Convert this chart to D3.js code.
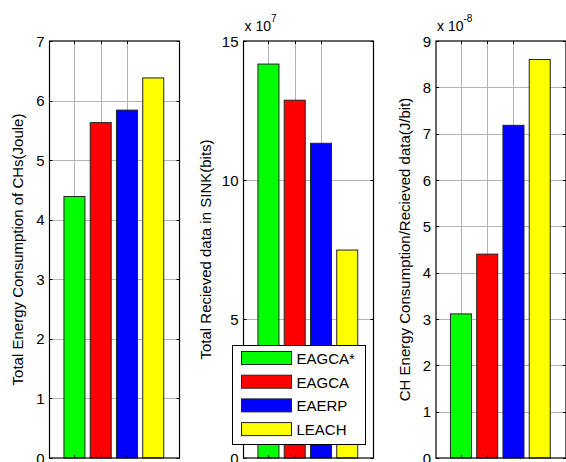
<!DOCTYPE html>
<html>
<head>
<meta charset="utf-8">
<script src="https://cdn.jsdelivr.net/npm/d3@7"></script>
<style>
  body { margin: 0; background: #fff; }
  svg { font-family: "Liberation Sans", Arial, sans-serif; }
  .tickLabel { font-size: 15px; fill: #000; }
  .expText { font-size: 14px; fill: #000; }
  .axisText { font-size: 15px; fill: #000; }
  .legendText { font-size: 15px; fill: #000; }
</style>
</head>
<body>
<script>
/********************************************************/
// Data
const methods = ["EAGCA*", "EAGCA", "EAERP", "LEACH"];
const barColours = ["#00ff00", "#ff0000", "#0000ff", "#ffff00"];
const barPositions = [1, 2, 3, 4];
const gridPositions = [1, 2, 3];

const energyCH = [4.39, 5.63, 5.84, 6.38];        // Joule
const receivedSink = [14.17, 12.87, 11.32, 7.48]; // x 10^7 bits
const energyPerBit = [3.11, 4.40, 7.18, 8.60];    // x 10^-8 J/bit

const ticksEnergy = [0, 1, 2, 3, 4, 5, 6, 7];
const ticksSink = [0, 5, 10, 15];
const ticksPerBit = [0, 1, 2, 3, 4, 5, 6, 7, 8, 9];
/********************************************************/
const svgWidth = 566;
const svgHeight = 462;
const plotTop = 41;
const plotBottom = 458;

const svg = d3.select("body").append("svg").attr("width", svgWidth).attr("height", svgHeight);
/********************************************************/
const panels = [
  { left: 49.5, values: energyCH, ticks: ticksEnergy, yMax: 7,
    label: "Total Energy Consumption of CHs(Joule)", labelX: 18, exp: null },
  { left: 243.5, values: receivedSink, ticks: ticksSink, yMax: 15,
    label: "Total Recieved data in SINK(bits)", labelX: 206, exp: "7" },
  { left: 436, values: energyPerBit, ticks: ticksPerBit, yMax: 9,
    label: "CH Energy Consumption/Recieved data(J/bit)", labelX: 405, exp: "-8" },
];

panels.forEach(drawPanel);
drawLegend();
/********************************************************/
function drawPanel(p) {
  const width = 130;
  const x = d3.scaleLinear().domain([0.05, 5]).range([p.left, p.left + width]);
  const y = d3.scaleLinear().domain([0, p.yMax]).range([plotBottom, plotTop]);
  const g = svg.append("g");

  // horizontal grid
  g.selectAll(null).data(p.ticks.slice(1, -1)).enter().append("line")
    .attr("x1", p.left).attr("x2", p.left + width)
    .attr("y1", (d) => Math.round(y(d)) + 0.5).attr("y2", (d) => Math.round(y(d)) + 0.5)
    .attr("stroke", "#b4b4b4").attr("stroke-width", 1);

  // vertical grid
  g.selectAll(null).data(gridPositions).enter().append("line")
    .attr("x1", (d) => Math.round(x(d)) + 0.5).attr("x2", (d) => Math.round(x(d)) + 0.5)
    .attr("y1", plotTop).attr("y2", plotBottom)
    .attr("stroke", "#b4b4b4").attr("stroke-width", 1);

  // bars
  const barW = x(0.8) - x(0);
  g.selectAll(null).data(p.values).enter().append("rect")
    .attr("x", (d, i) => x(barPositions[i]) - barW / 2)
    .attr("y", (d) => y(d))
    .attr("width", barW)
    .attr("height", (d) => y(0) - y(d))
    .attr("fill", (d, i) => barColours[i])
    .attr("stroke", "#222").attr("stroke-width", 1);

  // y ticks both sides, inward
  const tk = g.selectAll(null).data(p.ticks).enter();
  tk.append("line")
    .attr("x1", p.left).attr("x2", p.left + 3)
    .attr("y1", (d) => Math.round(y(d)) + 0.5).attr("y2", (d) => Math.round(y(d)) + 0.5)
    .attr("stroke", "#000");
  tk.append("line")
    .attr("x1", p.left + width - 3).attr("x2", p.left + width)
    .attr("y1", (d) => Math.round(y(d)) + 0.5).attr("y2", (d) => Math.round(y(d)) + 0.5)
    .attr("stroke", "#000");
  tk.append("text")
    .attr("class", "tickLabel")
    .attr("x", p.left - 5)
    .attr("y", (d) => y(d) + 5.5)
    .attr("text-anchor", "end")
    .text((d) => d);

  // x ticks top and bottom
  const xt = g.selectAll(null).data(gridPositions).enter();
  xt.append("line")
    .attr("x1", (d) => Math.round(x(d)) + 0.5).attr("x2", (d) => Math.round(x(d)) + 0.5)
    .attr("y1", plotTop).attr("y2", plotTop + 3).attr("stroke", "#000");
  xt.append("line")
    .attr("x1", (d) => Math.round(x(d)) + 0.5).attr("x2", (d) => Math.round(x(d)) + 0.5)
    .attr("y1", plotBottom - 3).attr("y2", plotBottom).attr("stroke", "#000");

  // box
  g.append("rect")
    .attr("x", p.left).attr("y", plotTop)
    .attr("width", width).attr("height", plotBottom - plotTop)
    .attr("fill", "none").attr("stroke", "#000").attr("stroke-width", 1.2);

  // y label
  g.append("text")
    .attr("class", "axisText")
    .attr("text-anchor", "middle")
    .attr("transform", `translate(${p.labelX}, ${(plotTop + plotBottom) / 2}) rotate(-90)`)
    .attr("dy", "0.35em")
    .text(p.label);

  // exponent
  if (p.exp) {
    const t = g.append("text").attr("class", "expText")
      .attr("x", p.left + 1).attr("y", 31);
    t.append("tspan").text("x 10");
    t.append("tspan").attr("dy", -9).style("font-size", "10px").text(p.exp);
  }
}
/********************************************************/
function drawLegend() {
  const lg = svg.append("g").attr("transform", "translate(232.5, 345.5)");
  lg.append("rect")
    .attr("width", 133).attr("height", 99)
    .attr("fill", "#fff").attr("stroke", "#000").attr("stroke-width", 1);
  const rows = lg.selectAll(null).data(methods).enter().append("g")
    .attr("transform", (d, i) => `translate(0, ${6 + i * 23.7})`);
  rows.append("rect")
    .attr("x", 9).attr("y", 0).attr("width", 50).attr("height", 13)
    .attr("fill", (d, i) => barColours[i]).attr("stroke", "#222");
  rows.append("text")
    .attr("class", "legendText")
    .attr("x", 64).attr("y", 12.5)
    .text((d) => d);
}
</script>
</body>
</html>
